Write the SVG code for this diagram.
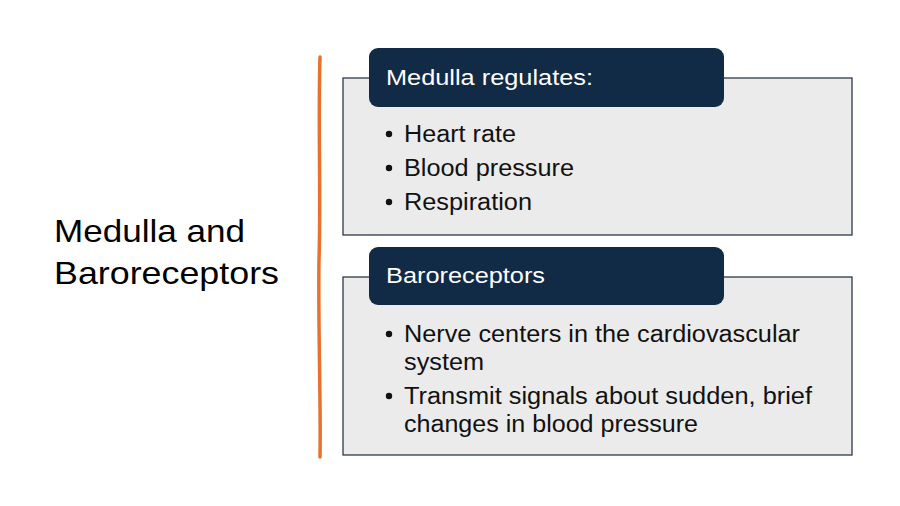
<svg xmlns="http://www.w3.org/2000/svg" width="900" height="506" viewBox="0 0 900 506">
<style>
.t{font-family:"Liberation Sans","Open Sans",sans-serif}
.box{fill:#ebebeb;stroke:#2e3a4a;stroke-width:1.3}
.hdr{fill:#112a46}
.ht{fill:#ffffff;font-size:22.5px}
.bt{fill:#111111;font-size:23px}
.dot{fill:#111111}
.title{fill:#000000;font-size:31.5px}
</style>
<rect width="900" height="506" fill="#ffffff"/>
<text class="t title" x="54" y="242" textLength="191" lengthAdjust="spacingAndGlyphs">Medulla and</text>
<text class="t title" x="54" y="284" textLength="225" lengthAdjust="spacingAndGlyphs">Baroreceptors</text>
<g id="connectors">
<path d="M320 57 C318 120 321 200 319 260 C318 330 321 400 320 457" fill="none" stroke="#e8722c" stroke-width="3.5" stroke-linecap="round"/>
</g>
<g id="node1">
<rect class="box" x="343" y="78" width="509" height="157"/>
<rect class="hdr" x="369" y="48" width="355" height="59" rx="9"/>
<text class="t ht" x="386" y="85" textLength="207" lengthAdjust="spacingAndGlyphs">Medulla regulates:</text>
<circle class="dot" cx="389" cy="134" r="3.2"/>
<text class="t bt" x="404" y="142" textLength="112" lengthAdjust="spacingAndGlyphs">Heart rate</text>
<circle class="dot" cx="389" cy="168" r="3.2"/>
<text class="t bt" x="404" y="176" textLength="170" lengthAdjust="spacingAndGlyphs">Blood pressure</text>
<circle class="dot" cx="389" cy="202" r="3.2"/>
<text class="t bt" x="404" y="210" textLength="128" lengthAdjust="spacingAndGlyphs">Respiration</text>
</g>
<g id="node2">
<rect class="box" x="343" y="277" width="509" height="178"/>
<rect class="hdr" x="369" y="247" width="355" height="58" rx="9"/>
<text class="t ht" x="386" y="283" textLength="159" lengthAdjust="spacingAndGlyphs">Baroreceptors</text>
<circle class="dot" cx="389" cy="334" r="3.2"/>
<text class="t bt" x="404" y="342" textLength="396" lengthAdjust="spacingAndGlyphs">Nerve centers in the cardiovascular</text>
<text class="t bt" x="404" y="370" textLength="80" lengthAdjust="spacingAndGlyphs">system</text>
<circle class="dot" cx="389" cy="396" r="3.2"/>
<text class="t bt" x="404" y="404" textLength="408" lengthAdjust="spacingAndGlyphs">Transmit signals about sudden, brief</text>
<text class="t bt" x="404" y="432" textLength="294" lengthAdjust="spacingAndGlyphs">changes in blood pressure</text>
</g>
</svg>
